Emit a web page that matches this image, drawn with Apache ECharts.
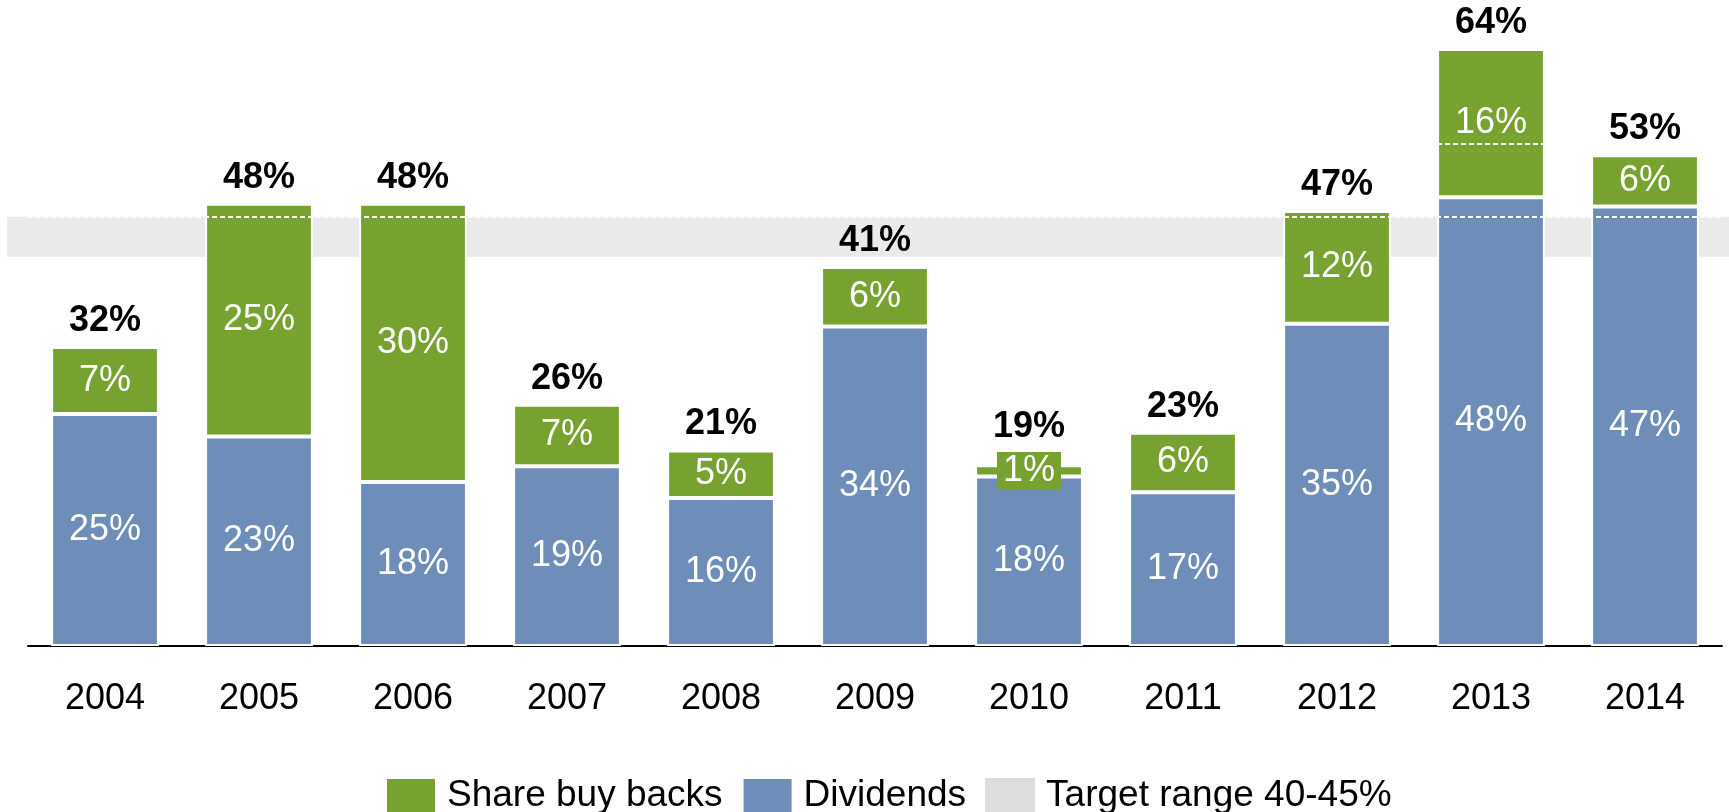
<!DOCTYPE html>
<html>
<head>
<meta charset="utf-8">
<script src="https://cdn.jsdelivr.net/npm/echarts@6/dist/echarts.min.js"></script>
<style>
  html, body { margin: 0; padding: 0; background: #fff; }
  #chart { width: 1729px; height: 812px; }
</style>
</head>
<body>
<div id="chart"></div>
<script>
  var years = ['2004', '2005', '2006', '2007', '2008', '2009', '2010', '2011', '2012', '2013', '2014'];
  var dividends = [24.9, 22.5, 17.6, 19.3, 15.9, 34.3, 18.2, 16.5, 34.6, 48.2, 47.2];
  var buyBacks = [7.2, 25.0, 29.9, 6.6, 5.1, 6.4, 1.2, 6.4, 12.1, 15.9, 5.5];
  var dividendLabels = ['25%', '23%', '18%', '19%', '16%', '34%', '18%', '17%', '35%', '48%', '47%'];
  var buyBackLabels = ['7%', '25%', '30%', '7%', '5%', '6%', '1%', '6%', '12%', '16%', '6%'];
  var totalLabels = ['32%', '48%', '48%', '26%', '21%', '41%', '19%', '23%', '47%', '64%', '53%'];
  var targetBand = [41.8, 46.1];
  var extraMarks = [['2013', 53.9]];

  var green = '#78A22F';
  var blue = '#6F8DB9';
  var font = 'Liberation Sans';

  var chart = echarts.init(document.getElementById('chart'));

  // the 1% segment is thinner than its label, so the label gets its own green box
  var buyBackData = buyBacks.map(function (v) {
    if (v < 2) {
      return { value: v, label: { backgroundColor: green, padding: [1, 6, 1, 6], lineHeight: 36 } };
    }
    return v;
  });
  var totalData = buyBacks.map(function (v) {
    return v < 2 ? { value: 0, label: { distance: 20 } } : 0;
  });

  chart.setOption({
    animation: false,
    textStyle: { fontFamily: font },
    grid: [
      { left: 28, right: 7, top: 40.7, bottom: 166 },
      { left: 7, right: 0, top: 40.7, bottom: 166 }
    ],
    legend: {
      data: ['Share buy backs', 'Dividends', 'Target range 40-45%'],
      icon: 'rect',
      selectedMode: false,
      left: 380,
      top: 772,
      itemWidth: 50,
      itemHeight: 36,
      itemGap: 19,
      textStyle: { fontSize: 37, color: '#000', fontFamily: font, padding: [0, 0, 0, 6] }
    },
    xAxis: [
      {
        type: 'category',
        data: years,
        axisLine: { lineStyle: { color: '#000', width: 2 } },
        axisTick: { show: false },
        axisLabel: { fontSize: 36, color: '#000', margin: 35.5, fontFamily: font }
      },
      { type: 'value', gridIndex: 1, min: 0, max: 1, show: false }
    ],
    yAxis: [
      { type: 'value', min: 0, max: 65, show: false },
      { type: 'value', gridIndex: 1, min: 0, max: 65, show: false }
    ],
    series: [
      {
        name: 'Target range 40-45%',
        type: 'line',
        xAxisIndex: 1,
        yAxisIndex: 1,
        data: [],
        symbol: 'none',
        itemStyle: { color: '#DDDDDD' },
        lineStyle: { color: '#DDDDDD' },
        markArea: {
          silent: true,
          itemStyle: { color: '#EAEAEA' },
          data: [[{ yAxis: targetBand[0] }, { yAxis: targetBand[1] }]]
        }
      },
      {
        name: 'Dividends',
        type: 'bar',
        stack: 'payout',
        barCategoryGap: '30%',
        data: dividends,
        itemStyle: { color: blue, borderColor: '#fff', borderWidth: 2 },
        label: {
          show: true,
          position: 'inside',
          color: '#fff',
          fontSize: 36,
          fontFamily: font,
          formatter: function (p) { return dividendLabels[p.dataIndex]; }
        }
      },
      {
        name: 'Share buy backs',
        type: 'bar',
        stack: 'payout',
        data: buyBackData,
        itemStyle: { color: green, borderColor: '#fff', borderWidth: 2 },
        label: {
          show: true,
          position: 'inside',
          color: '#fff',
          fontSize: 36,
          fontFamily: font,
          formatter: function (p) { return buyBackLabels[p.dataIndex]; }
        },
        markLine: {
          silent: true,
          symbol: 'none',
          label: { show: false },
          lineStyle: { color: '#fff', type: [5, 3], width: 2 },
          data: [{ yAxis: targetBand[1] }]
        }
      },
      {
        name: 'Total',
        type: 'bar',
        stack: 'payout',
        data: totalData,
        itemStyle: { color: 'transparent', borderWidth: 0 },
        label: {
          show: true,
          position: 'top',
          distance: 8,
          color: '#000',
          fontSize: 36,
          fontWeight: 'bold',
          fontFamily: font,
          formatter: function (p) { return totalLabels[p.dataIndex]; }
        }
      },
      {
        name: 'Marker',
        type: 'custom',
        z: 6,
        data: extraMarks,
        renderItem: function (params, api) {
          var p = api.coord([api.value(0), api.value(1)]);
          var w = api.size([1, 0])[0] * 0.7;
          return {
            type: 'line',
            shape: { x1: p[0] - w / 2, y1: p[1], x2: p[0] + w / 2, y2: p[1] },
            style: { stroke: '#fff', lineWidth: 2, lineDash: [5, 3] }
          };
        }
      }
    ]
  });
</script>
</body>
</html>
